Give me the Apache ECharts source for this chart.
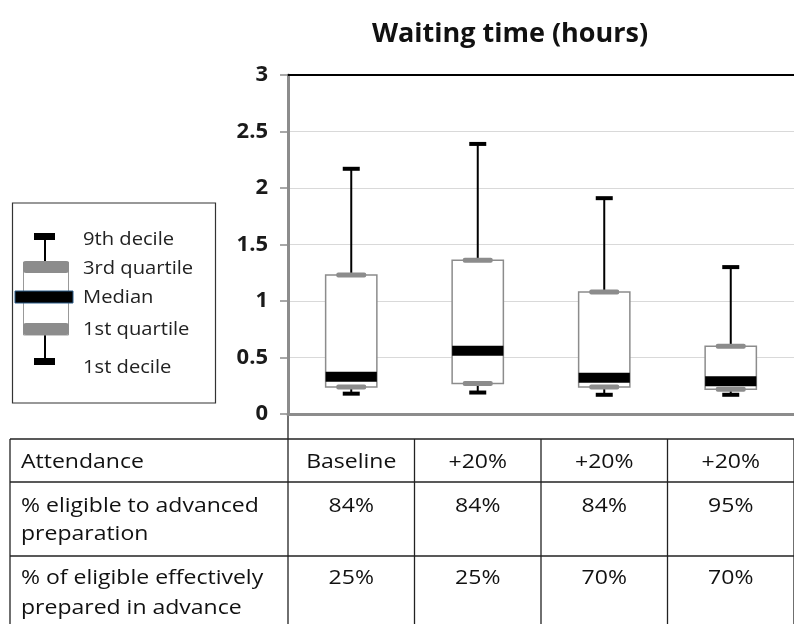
<!DOCTYPE html>
<html>
<head>
<meta charset="utf-8">
<script src="https://cdn.jsdelivr.net/npm/echarts@6/dist/echarts.min.js"></script>
<style>html,body{margin:0;padding:0;background:#fff;}#c{width:794px;height:624px;}</style>
</head>
<body>
<div id="c"></div>
<script>
// ---- data ----
const scenarios = ['Scenario 1', 'Scenario 2', 'Scenario 3', 'Scenario 4'];
const decile1   = [0.18, 0.19, 0.17, 0.17];
const quartile1 = [0.24, 0.27, 0.24, 0.22];
const medians   = [0.33, 0.56, 0.32, 0.29];
const quartile3 = [1.23, 1.36, 1.08, 0.60];
const decile9   = [2.17, 2.39, 1.91, 1.30];
const yTicks = [0, 0.5, 1, 1.5, 2, 2.5, 3];
const chartTitle = 'Waiting time (hours)';
const legendLabels = ['9th decile', '3rd quartile', 'Median', '1st quartile', '1st decile'];
const rowLabels = [['Attendance'], ['% eligible to advanced', 'preparation'], ['% of eligible effectively', 'prepared in advance']];
const attendance = ['Baseline', '+20%', '+20%', '+20%'];
const eligible   = ['84%', '84%', '84%', '95%'];
const prepared   = ['25%', '25%', '70%', '70%'];

const boxData = scenarios.map((s, i) => [i, decile1[i], quartile1[i], medians[i], quartile3[i], decile9[i]]);

const chart = echarts.init(document.getElementById('c'), null, {renderer: 'canvas'});
const FONT = '"Open Sans", "Noto Sans", sans-serif';

function renderBox(params, api) {
  const x = api.value(0);
  const pD1 = api.coord([x, api.value(1)]);
  const pQ1 = api.coord([x, api.value(2)]);
  const pMd = api.coord([x, api.value(3)]);
  const pQ3 = api.coord([x, api.value(4)]);
  const pD9 = api.coord([x, api.value(5)]);
  const cx = pD1[0];
  const band = api.size([1, 0])[0];
  const bw = band * 0.405;
  return {
    type: 'group',
    children: [
      {type: 'line', shape: {x1: cx, y1: pD9[1], x2: cx, y2: pQ3[1]}, style: {stroke: '#000', lineWidth: 2}},
      {type: 'line', shape: {x1: cx, y1: pQ1[1], x2: cx, y2: pD1[1]}, style: {stroke: '#000', lineWidth: 2}},
      {type: 'rect', shape: {x: cx - bw / 2, y: pQ3[1], width: bw, height: pQ1[1] - pQ3[1]}, style: {fill: '#fff', stroke: '#8c8c8c', lineWidth: 1.5}},
      {type: 'rect', shape: {x: cx - bw / 2, y: pMd[1] - 5, width: bw, height: 10}, style: {fill: '#000'}},
      {type: 'rect', shape: {x: cx - 15, y: pQ3[1] - 2.5, width: 30, height: 5, r: 2}, style: {fill: '#8c8c8c'}},
      {type: 'rect', shape: {x: cx - 15, y: pQ1[1] - 2.5, width: 30, height: 5, r: 2}, style: {fill: '#8c8c8c'}},
      {type: 'rect', shape: {x: cx - 8.5, y: pD9[1] - 2, width: 17, height: 4}, style: {fill: '#000'}},
      {type: 'rect', shape: {x: cx - 8.5, y: pD1[1] - 2, width: 17, height: 4}, style: {fill: '#000'}}
    ]
  };
}

chart.setOption({
  animation: false,
  backgroundColor: '#fff',
  grid: {left: 288, top: 75, width: 515, height: 339},
  xAxis: [
    {type: 'category', data: scenarios, position: 'bottom',
     axisLine: {lineStyle: {color: '#8c8c8c', width: 3}},
     axisTick: {show: false}, axisLabel: {show: false}, splitLine: {show: false}},
    {type: 'category', data: scenarios, position: 'top',
     axisLine: {lineStyle: {color: '#000', width: 2}},
     axisTick: {show: false}, axisLabel: {show: false}, splitLine: {show: false}}
  ],
  yAxis: {
    type: 'value', min: yTicks[0], max: yTicks[yTicks.length - 1], interval: 0.5,
    axisLine: {show: true, lineStyle: {color: '#8c8c8c', width: 3}},
    axisTick: {show: true, length: 8, lineStyle: {color: '#8c8c8c', width: 1.5}},
    axisLabel: {fontFamily: FONT, fontWeight: 'bold', fontSize: 22, color: '#1a1a1a', margin: 20},
    splitLine: {lineStyle: {color: '#d9d9d9', width: 1}}
  },
  series: [{
    type: 'custom', renderItem: renderBox, data: boxData,
    encode: {x: 0, y: [1, 2, 3, 4, 5]}, clip: false
  }]
});

// ---- decorations: title, legend, table ----
const g = [];
g.push({type: 'text', x: 510, y: 34, style: {text: chartTitle, font: 'bold 27px ' + FONT, fill: '#111', textAlign: 'center', textVerticalAlign: 'middle'}});

// legend box
g.push({type: 'rect', shape: {x: 12.5, y: 203, width: 203, height: 200}, style: {fill: 'none', stroke: '#333', lineWidth: 1.2}});
g.push({type: 'line', shape: {x1: 45, y1: 237, x2: 45, y2: 264}, style: {stroke: '#000', lineWidth: 2}});
g.push({type: 'line', shape: {x1: 45, y1: 333, x2: 45, y2: 362}, style: {stroke: '#000', lineWidth: 2}});
g.push({type: 'rect', shape: {x: 34, y: 233, width: 21, height: 7}, style: {fill: '#000'}});
g.push({type: 'rect', shape: {x: 34, y: 358, width: 21, height: 7}, style: {fill: '#000'}});
g.push({type: 'rect', shape: {x: 23.5, y: 262, width: 45, height: 73}, style: {fill: '#fff', stroke: '#999', lineWidth: 1}});
g.push({type: 'rect', shape: {x: 23, y: 261, width: 46, height: 12, r: 3}, style: {fill: '#8c8c8c'}});
g.push({type: 'rect', shape: {x: 23, y: 323, width: 46, height: 12, r: 3}, style: {fill: '#8c8c8c'}});
g.push({type: 'rect', shape: {x: 15, y: 291, width: 58, height: 12}, style: {fill: '#000', stroke: '#2a5d8a', lineWidth: 1}});
const legY = [240, 269, 298, 330, 368];
legendLabels.forEach((t, i) => {
  g.push({type: 'text', x: 83, y: legY[i], scaleX: 1.12, style: {text: t, font: '18px ' + FONT, fill: '#222', textVerticalAlign: 'middle'}});
});

// table
const centers = scenarios.map((s, i) => chart.convertToPixel({xAxisIndex: 0}, i));
const band = centers[1] - centers[0];
const bounds = [centers[0] - band / 2].concat(centers.map(c => c + band / 2));
const rowLines = [439, 482, 556];
const lineStyle = {stroke: '#222', lineWidth: 1.3};
rowLines.forEach(y => g.push({type: 'line', shape: {x1: 10, y1: y, x2: 800, y2: y}, style: lineStyle}));
g.push({type: 'line', shape: {x1: 10, y1: 439, x2: 10, y2: 624}, style: lineStyle});
bounds.forEach((x, i) => g.push({type: 'line', shape: {x1: x, y1: i === 0 ? 415 : 439, x2: x, y2: 624}, style: lineStyle}));

const rowY = [[462], [506, 534], [578, 608]];
const tFont = '20px ' + FONT;
rowLabels.forEach((lines, r) => lines.forEach((t, k) => {
  g.push({type: 'text', x: 21, y: rowY[r][k], scaleX: 1.15, style: {text: t, font: tFont, fill: '#111', textVerticalAlign: 'middle'}});
}));
[attendance, eligible, prepared].forEach((row, r) => row.forEach((t, i) => {
  g.push({type: 'text', x: centers[i], y: rowY[r][0], scaleX: 1.15, style: {text: t, font: tFont, fill: '#111', textAlign: 'center', textVerticalAlign: 'middle'}});
}));

chart.setOption({graphic: {elements: g}});
</script>
</body>
</html>
